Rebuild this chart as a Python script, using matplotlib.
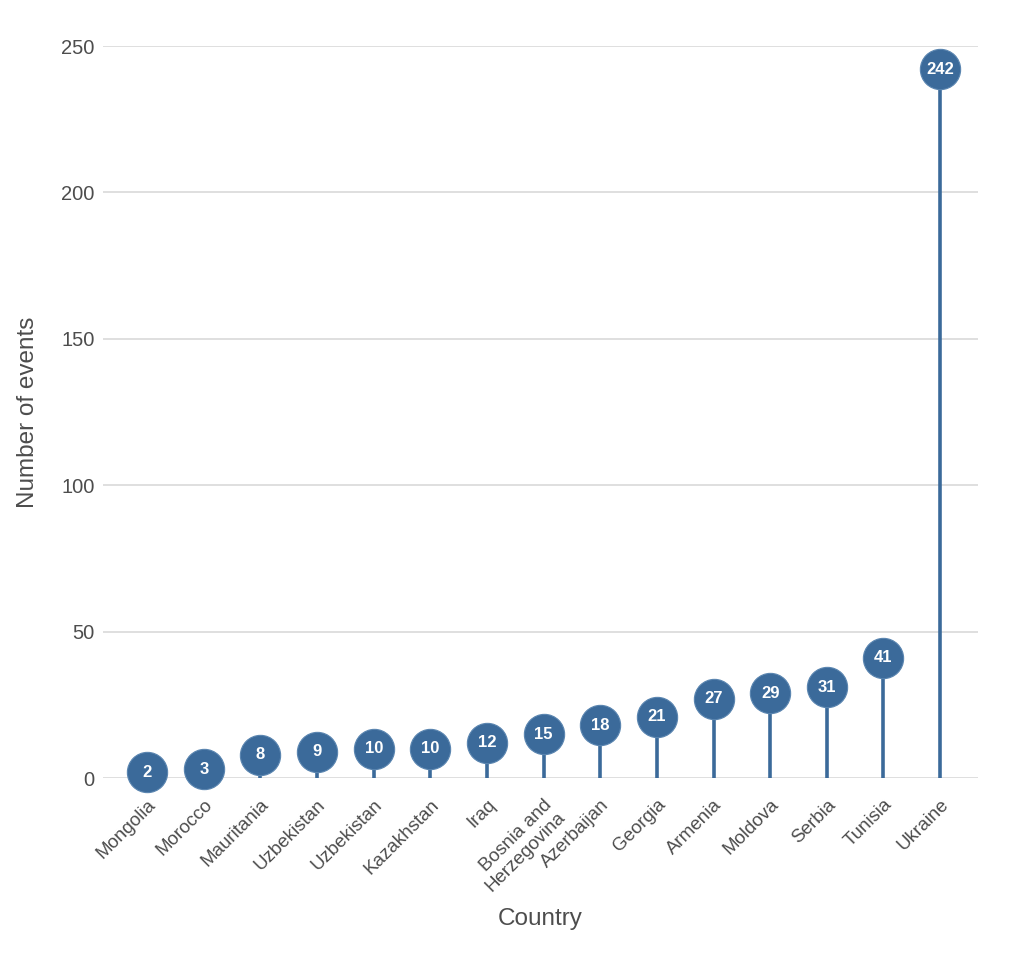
import matplotlib
matplotlib.use("Agg")
import matplotlib.pyplot as plt

countries = ["Mongolia", "Morocco", "Mauritania", "Uzbekistan", "Uzbekistan",
             "Kazakhstan", "Iraq", "Bosnia and\nHerzegovina", "Azerbaijan", "Georgia",
             "Armenia", "Moldova", "Serbia", "Tunisia", "Ukraine"]
events = [2, 3, 8, 9, 10, 10, 12, 15, 18, 21, 27, 29, 31, 41, 242]
yticks = [0, 50, 100, 150, 200, 250]

color = "#3b6a9a"
text_gray = "#4d4d4d"

plt.rcParams["font.family"] = ["Liberation Sans", "DejaVu Sans"]

fig = plt.figure(figsize=(10.24, 9.69), dpi=100)
ax = fig.add_axes([103 / 1024, (969 - 778) / 969, 875 / 1024, 732 / 969])

xs = list(range(len(countries)))
ax.vlines(xs, 0, events, color=color, linewidth=2.6, zorder=3)
ax.plot(xs, events, "o", color=color, markersize=29, markeredgecolor="#5a85b0",
        markeredgewidth=0.8, zorder=4, clip_on=False)
for x, v in zip(xs, events):
    ax.text(x, v, str(v), ha="center", va="center", color="white",
            fontsize=12, fontweight="bold", zorder=5, clip_on=False)

ax.set_xlim(-0.78, 14.67)
ax.set_ylim(0, 250)
ax.set_yticks(yticks)
ax.set_xticks(xs)
ax.set_xticklabels(countries, rotation=45, ha="right", rotation_mode="anchor",
                   fontsize=13.5, color=text_gray, linespacing=1.1)
ax.tick_params(axis="x", length=0, pad=13)
ax.tick_params(axis="y", length=0, pad=6, labelsize=14.5, labelcolor=text_gray)
ax.grid(axis="y", color="#d9d9d9", linewidth=1.2, zorder=0)
ax.set_axisbelow(True)
for s in ax.spines.values():
    s.set_visible(False)

ax.set_xlabel("Country", fontsize=17.5, color=text_gray, labelpad=9)
ax.set_ylabel("Number of events", fontsize=17.5, color=text_gray, labelpad=16)

fig.savefig("out.png", dpi=100, facecolor="white")
